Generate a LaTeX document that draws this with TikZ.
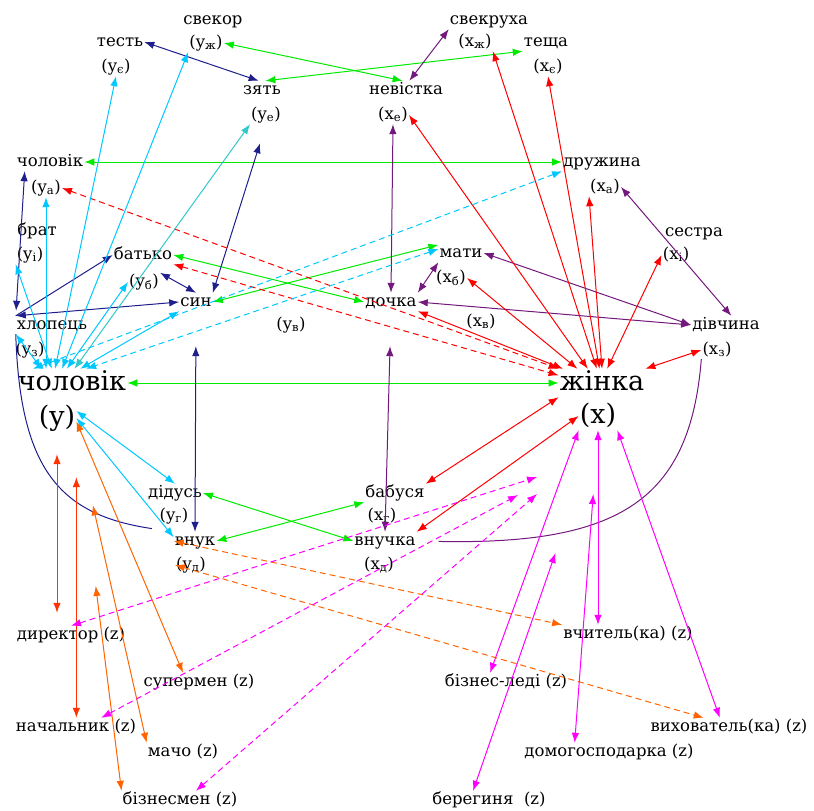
\documentclass[tikz,border=0pt]{standalone}
\usepackage{fontspec}
\setmainfont{DejaVu Serif}
\usetikzlibrary{arrows.meta}
\definecolor{gr}{RGB}{0,235,0}
\definecolor{nv}{RGB}{30,30,140}
\definecolor{pu}{RGB}{115,25,125}
\definecolor{rd}{RGB}{255,0,0}
\definecolor{orng}{RGB}{255,100,0}
\definecolor{orr}{RGB}{255,50,0}
\definecolor{cy}{RGB}{0,200,255}
\definecolor{tl}{RGB}{50,200,200}
\definecolor{mg}{RGB}{255,0,255}

\begin{document}
\begin{tikzpicture}[x=1pt, y=-1pt, >={Latex[length=10pt,width=7.5pt]},
  lbl/.style={inner sep=1pt, text height=12pt, text depth=4pt, font=\fontsize{16.5}{20}\selectfont},
  big/.style={inner sep=1pt, text height=20pt, text depth=6pt, font=\fontsize{27}{32}\selectfont},
  rel/.style={<->, line width=1pt},
  dsh/.style={dash pattern=on 6pt off 4pt}]
\useasboundingbox (0,0) rectangle (814,811);
% ---------- in-laws (top row) ----------
\node[lbl] (svekor) at (213,20) {свекор};
\node[lbl] (svekorS) at (206,43) {(y\textsubscript{ж})};
\node[lbl] (test) at (120,42) {тесть};
\node[lbl] (testS) at (116,67) {(y\textsubscript{є})};
\node[lbl] (zyat) at (262,90) {зять};
\node[lbl] (zyatS) at (266,115) {(y\textsubscript{е})};
\node[lbl] (svekrukha) at (489,20) {свекруха};
\node[lbl] (svekrukhaS) at (475,42) {(x\textsubscript{ж})};
\node[lbl] (teshcha) at (546,42) {теща};
\node[lbl] (teshchaS) at (548,67) {(x\textsubscript{є})};
\node[lbl] (nevistka) at (406,90) {невістка};
\node[lbl] (nevistkaS) at (393,115) {(x\textsubscript{е})};
% ---------- spouses, siblings, parents, children ----------
\node[lbl] (cholA) at (50,162) {чоловік};
\node[lbl] (cholAS) at (46,188) {(y\textsubscript{а})};
\node[lbl] (druzhyna) at (602,162) {дружина};
\node[lbl] (druzhynaS) at (605,187) {(x\textsubscript{а})};
\node[lbl] (brat) at (37,231) {брат};
\node[lbl] (bratS) at (30,255) {(y\textsubscript{і})};
\node[lbl] (sestra) at (694,232) {сестра};
\node[lbl] (sestraS) at (676,255) {(x\textsubscript{і})};
\node[lbl] (batko) at (143,255) {батько};
\node[lbl] (batkoS) at (144,282) {(y\textsubscript{б})};
\node[lbl] (maty) at (461,253) {мати};
\node[lbl] (matyS) at (451,278) {(x\textsubscript{б})};
\node[lbl] (syn) at (196,302) {син};
\node[lbl] (synS) at (291,325) {(y\textsubscript{в})};
\node[lbl] (dochka) at (391,302) {дочка};
\node[lbl] (dochkaS) at (481,322) {(x\textsubscript{в})};
\node[lbl] (khlopets) at (52,325) {хлопець};
\node[lbl] (khlopetsS) at (30,350) {(y\textsubscript{з})};
\node[lbl] (divchyna) at (726,325) {дівчина};
\node[lbl] (divchynaS) at (717,350) {(x\textsubscript{з})};
% ---------- man and woman ----------
\node[big] (cholovik) at (72,383) {чоловік};
\node[big] (cholY) at (57,418) {(y)};
\node[big] (zhinka) at (602,383) {жінка};
\node[big] (zhinX) at (598,416) {(x)};
% ---------- grandparents, grandchildren ----------
\node[lbl] (didus) at (175,493) {дідусь};
\node[lbl] (didusS) at (174,516) {(y\textsubscript{г})};
\node[lbl] (babusya) at (395,493) {бабуся};
\node[lbl] (babusyaS) at (382,516) {(x\textsubscript{г})};
\node[lbl] (vnuk) at (195,541) {внук};
\node[lbl] (vnukS) at (191,565) {(y\textsubscript{д})};
\node[lbl] (vnuchka) at (385,541) {внучка};
\node[lbl] (vnuchkaS) at (379,565) {(x\textsubscript{д})};
% ---------- social roles (z) ----------
\node[lbl] (dyrektor) at (71,635) {директор (z)};
\node[lbl] (supermen) at (199,682) {супермен (z)};
\node[lbl] (nachalnyk) at (76,727) {начальник (z)};
\node[lbl] (macho) at (183,752) {мачо (z)};
\node[lbl] (biznesmen) at (180,800) {бізнесмен (z)};
\node[lbl] (vchytel) at (628,634) {вчитель(ка) (z)};
\node[lbl] (biznesledi) at (506,682) {бізнес-леді (z)};
\node[lbl] (vykhovatel) at (729,727) {вихователь(ка) (z)};
\node[lbl] (domohosp) at (609,752) {домогосподарка (z)};
\node[lbl] (berehynia) at (489,800) {берегиня \ (z)};
\coordinate (zf1) at (537,477);
\coordinate (zf2) at (518,495);
\coordinate (zf3) at (537,494);
% green: pairs across
\draw[rel, gr] (svekorS.east) -- (nevistka.110);
\draw[rel, gr] (zyat.70) -- (teshcha.south west);
\draw[rel, gr] (cholA.east) -- (druzhyna.west);
\draw[rel, gr] (batko.east) -- (dochka.west);
\draw[rel, gr] (maty.160) -- (syn.east);
\draw[rel, gr] (cholovik.east) -- (zhinka.west);
\draw[rel, gr] (didus.east) -- (vnuchka.west);
\draw[rel, gr] (babusya.south west) -- (vnuk.east);
% navy: male line
\draw[rel, nv] (test.east) -- (zyat.110);
\draw[rel, nv, shorten <=20pt] (zyatS.south) -- (syn.north east);
\draw[rel, nv, shorten >=5pt] (cholA.-160) -- (khlopets.north west);
\draw[->, line width=1pt, nv] (khlopets.north west) -- (batko.west);
\draw[rel, nv] (syn.west) -- (khlopets.north west);
\draw[rel, nv] (batkoS.north east) -- (syn.north);
\draw[rel, nv, shorten <=35pt] (syn.south) -- (vnuk.north);
\draw[nv, line width=1pt, shorten >=22pt] (khlopets.south west) .. controls (20,470) and (60,515) .. (vnuk.north west);
% purple: female line
\draw[rel, pu] (svekrukha.south west) -- (nevistka.70);
\draw[rel, pu] (nevistkaS.south) -- (dochka.north);
\draw[rel, pu] (maty.south west) -- (dochka.north east);
\draw[rel, pu] (maty.east) -- (divchyna.west);
\draw[rel, pu] (dochka.east) -- (divchyna.west);
\draw[rel, pu] (druzhynaS.east) -- (divchyna.60);
\draw[rel, pu, shorten <=35pt] (dochka.south) -- (vnuchka.north);
\draw[pu, line width=1pt, shorten >=22pt] (divchynaS.south west) .. controls (690,500) and (620,545) .. (vnuchka.east);
% red: to the woman
\draw[rel, rd] (nevistkaS.east) -- (zhinka.135);
\draw[rel, rd] (svekrukhaS.south east) -- (zhinka.110);
\draw[rel, rd] (teshchaS.south) -- (zhinka.100);
\draw[rel, rd] (druzhynaS.south west) -- (zhinka.north);
\draw[rel, rd] (sestraS.west) -- (zhinka.70);
\draw[rel, rd] (divchynaS.west) -- (zhinka.north east);
\draw[rel, rd] (matyS.east) -- (zhinka.150);
\draw[rel, rd] (dochka.south east) -- (zhinka.160);
\draw[rel, rd] (babusya.north east) -- (zhinka.south west);
\draw[rel, rd] (vnuchka.north east) -- (zhinX.west);
\draw[rel, rd, dsh] (cholAS.east) -- (zhinka.north west);
\draw[rel, rd, dsh] (batko.south east) -- (zhinka.170);
% cyan: to the man
\draw[rel, cy] (testS.south) -- (cholovik.140);
\draw[rel, cy] (svekorS.south west) -- (cholovik.125);
\draw[rel, tl] (zyatS.south west) -- (cholovik.80);
\draw[rel, cy] (cholAS.south) -- (cholAS.south |- cholovik.north);
\draw[rel, cy] (bratS.south west) -- (cholovik.145);
\draw[rel, cy] (batkoS.west) -- (cholovik.110);
\draw[rel, cy] (khlopets.south west) -- (cholovik.155);
\draw[rel, cy] (syn.south west) -- (cholovik.60);
\draw[rel, cy, dsh] (druzhyna.south west) -- (cholovik.160);
\draw[rel, cy, dsh] (maty.170) -- (cholovik.45);
\draw[rel, cy] (cholY.20) -- (didus.north);
\draw[rel, cy] (cholY.east) -- (vnuk.170);
% orange: male roles
\draw[rel, orr, shorten <=22pt, shorten >=13pt] (cholY.south) -- (cholY.south |- dyrektor.north);
\draw[rel, orr, shorten <=45pt] (cholY.south east) -- (cholY.south east |- nachalnyk.north);
\draw[rel, orng] (cholY.-10) -- (supermen.150);
\draw[rel, orng, shorten <=75pt] (cholY.south east) -- (macho.north west);
\draw[rel, orng, shorten <=155pt] (cholY.south east) -- (biznesmen.north west);
\draw[rel, orng, dsh] (vnuk.west) -- (vchytel.north west);
\draw[rel, orng, dsh] (vnukS.west) -- (vykhovatel.160);
% magenta: female roles
\draw[rel, mg] (zhinX.south west) -- (biznesledi.150);
\draw[rel, mg] (zhinX.south) -- (zhinX.south |- vchytel.north);
\draw[rel, mg] (zhinX.south east) -- (vykhovatel.135);
\draw[rel, mg, shorten <=64pt] (zhinX.south) -- (domohosp.165);
\draw[rel, mg, shorten <=130pt] (zhinX.south) -- (berehynia.150);
\draw[rel, mg, dsh] (dyrektor.north) -- (zf1);
\draw[rel, mg, dsh] (nachalnyk.20) -- (zf2);
\draw[rel, mg, dsh] (biznesmen.30) -- (zf3);
\end{tikzpicture}
\end{document}
